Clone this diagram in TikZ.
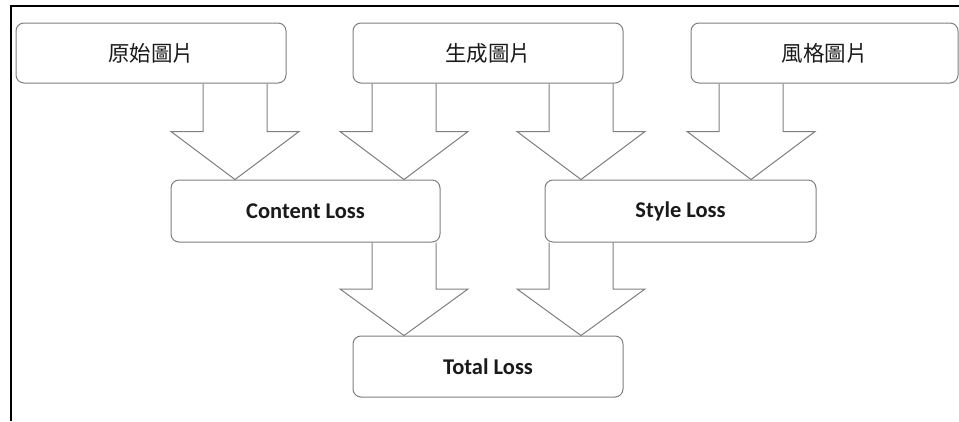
\documentclass[tikz,border=0pt]{standalone}
\usepackage{fontspec}
\setmainfont{Carlito}
\newfontfamily\cjk{Noto Sans CJK TC}
\usetikzlibrary{calc}

\definecolor{boxline}{HTML}{7F7F7F}
\definecolor{ink}{HTML}{1A1A1A}

\tikzset{
  stage/.style={draw=boxline, line width=1pt, rounded corners=8pt, fill=white,
    minimum height=60pt, inner sep=0pt, text=ink, anchor=center},
  imgbox/.style={stage, font=\cjk\fontsize{21.5}{25}\selectfont},
  lossbox/.style={stage, minimum height=62pt, font=\bfseries\fontsize{22.5}{26}\selectfont},
  blockarrow/.style={draw=boxline, line width=1pt, line join=miter},
  frameline/.style={draw=black, line width=2pt}
}

% hollow block arrow from the bottom of #2 to the top of #3, centred on x of #1
\newcommand\hollowarrow[3]{%
  \draw[blockarrow]
    ($(#1 |- #2.south)+(-32,0)$) --
    ($($(#1 |- #2.south)!0.5!(#1 |- #3.north)$)+(-32,0)$) --
    ($($(#1 |- #2.south)!0.5!(#1 |- #3.north)$)+(-64,0)$) --
    (#1 |- #3.north) --
    ($($(#1 |- #2.south)!0.5!(#1 |- #3.north)$)+(64,0)$) --
    ($($(#1 |- #2.south)!0.5!(#1 |- #3.north)$)+(32,0)$) --
    ($(#1 |- #2.south)+(32,0)$);
}

\begin{document}
\begin{tikzpicture}[x=1pt, y=-1pt]
  \useasboundingbox (0,0) rectangle (959,421);

  % open frame: top and left edges only
  \draw[frameline] (11,421) -- (11,6) -- (959,6);

  % input images
  \node[imgbox, minimum width=270pt] (orig)  at (151,53)   {原始圖片};
  \node[imgbox, minimum width=270pt] (gen)   at (488,53)   {生成圖片};
  \node[imgbox, minimum width=267pt] (style) at (824.5,53) {風格圖片};

  % losses
  \node[lossbox, minimum width=269pt] (closs) at (305.5,211) {Content Loss};
  \node[lossbox, minimum width=271pt] (sloss) at (680.5,211) {Style Loss};
  \node[lossbox, minimum width=270pt, minimum height=61pt] (tloss) at (488,366.5) {Total Loss};

  % arrow centre lines
  \coordinate (xa) at (235,0);
  \coordinate (xb) at (404,0);
  \coordinate (xc) at (581,0);
  \coordinate (xd) at (751,0);

  \hollowarrow{xa}{orig}{closs}
  \hollowarrow{xb}{gen}{closs}
  \hollowarrow{xc}{gen}{sloss}
  \hollowarrow{xd}{style}{sloss}
  \hollowarrow{xb}{closs}{tloss}
  \hollowarrow{xc}{sloss}{tloss}
\end{tikzpicture}
\end{document}
